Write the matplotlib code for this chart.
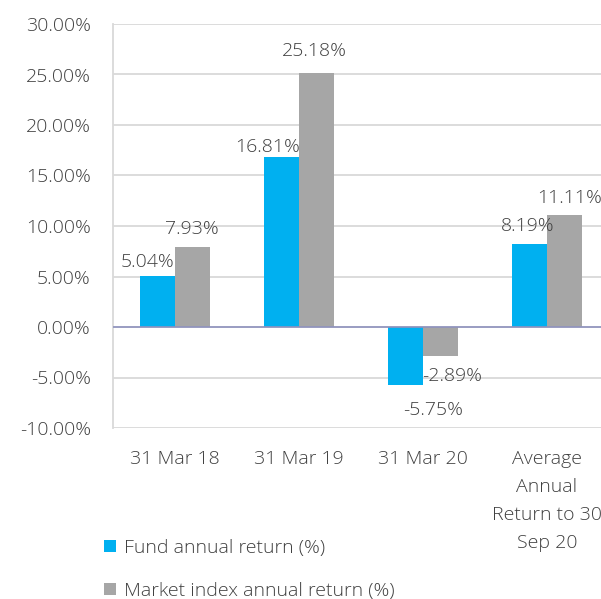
import numpy as np
import matplotlib
matplotlib.use("Agg")
import matplotlib.pyplot as plt
from matplotlib.ticker import FuncFormatter

plt.rcParams['font.family'] = ['Open Sans', 'DejaVu Sans']
plt.rcParams['font.weight'] = 'light'

CATEGORIES = ["31 Mar 18", "31 Mar 19", "31 Mar 20",
              "Average\nAnnual\nReturn to 30\nSep 20"]
FUND = [5.04, 16.81, -5.75, 8.19]
MARKET = [7.93, 25.18, -2.89, 11.11]
SERIES_NAMES = ["Fund annual return (%)", "Market index annual return (%)"]

# hand placement of the value labels (pixel offsets from the bar end)
FUND_LABEL_OFF = [(-10, 14), (-14, 10), (27, -25), (-2, 18)]
MARKET_LABEL_OFF = [(0, 18), (-2, 22), (12, -20), (5, 17)]

TEXT = "#404040"
FUND_C = "#00B0F0"
MARKET_C = "#A6A6A6"
GRID_C = "#D9D9D9"


def main():
    W, H = 601, 599
    fig = plt.figure(figsize=(W / 100, H / 100), dpi=100)
    ax = fig.add_axes([113 / W, (H - 428) / H, 496 / W, 404 / H])

    x = np.arange(len(CATEGORIES))
    bw = 0.28
    b1 = ax.bar(x - bw / 2, FUND, bw, color=FUND_C, label=SERIES_NAMES[0], zorder=3)
    b2 = ax.bar(x + bw / 2, MARKET, bw, color=MARKET_C, label=SERIES_NAMES[1], zorder=3)

    for bars, vals, offs in ((b1, FUND, FUND_LABEL_OFF), (b2, MARKET, MARKET_LABEL_OFF)):
        for rect, v, (dx, dy) in zip(bars, vals, offs):
            ax.annotate(f"{v:.2f}%", (rect.get_x() + rect.get_width() / 2, v),
                        xytext=(dx, dy), textcoords="offset pixels",
                        ha="center", va="center", fontsize=14, color=TEXT, zorder=4)

    ax.set_xlim(-0.5, len(CATEGORIES) - 0.5)
    ax.set_ylim(-10, 30)
    ax.set_yticks(np.arange(-10, 31, 5))
    ax.yaxis.set_major_formatter(FuncFormatter(lambda v, p: f"{v:.2f}%"))
    ax.set_xticks(x)
    ax.set_xticklabels(CATEGORIES, linespacing=1.72)
    ax.tick_params(axis="both", length=0, labelsize=14, labelcolor=TEXT)
    ax.tick_params(axis="y", pad=16)
    ax.tick_params(axis="x", pad=16)

    ax.grid(axis="y", color=GRID_C, lw=1.3, zorder=0)
    ax.axhline(0, color="#8E92BE", lw=1.2, zorder=3.5)
    for s in ("top", "right", "bottom"):
        ax.spines[s].set_visible(False)
    ax.spines["left"].set_color(GRID_C)
    ax.spines["left"].set_linewidth(1.3)

    fig.legend(handles=[b1, b2], loc="upper left", bbox_to_anchor=(104 / W, 1 - 539 / H),
               frameon=False, fontsize=14, labelcolor=TEXT, handlelength=0.6,
               handleheight=0.6, handletextpad=0.45, labelspacing=1.27,
               borderaxespad=0, borderpad=0)

    fig.savefig("out.png", dpi=100)
    plt.close(fig)


if __name__ == "__main__":
    main()
